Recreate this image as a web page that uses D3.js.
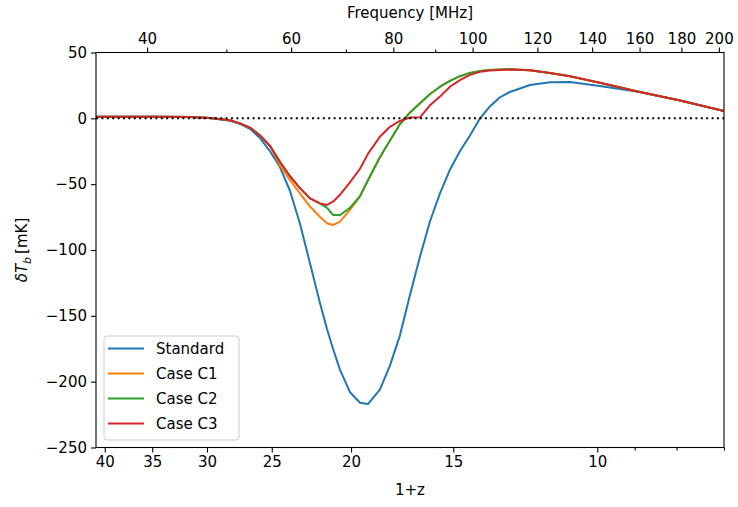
<!DOCTYPE html>
<html>
<head>
<meta charset="utf-8">
<script src="https://cdn.jsdelivr.net/npm/d3@7"></script>
<style>
    body { margin: 0; background: #ffffff; }
    svg { display: block; font-family: "DejaVu Sans", sans-serif; }
    .axis text { font-family: "DejaVu Sans", sans-serif; font-size: 15px; fill: #000000; }
    .axis line { stroke: #000000; stroke-width: 1.1; }
</style>
</head>
<body>
<div id="chart"></div>
<script>

// ----- Daten ------------------------------------------------------------------------------------ //

var nu21 = 1420.4;

var opz = [41, 37.26, 34.24, 31.47, 29.75, 28.12, 27.34, 26.58, 25.84, 25.12, 24.43, 23.75, 23.09,
    22.45, 21.83, 21.40, 21.04, 20.63, 20.06, 19.50, 19.07, 18.44, 17.93, 17.43, 16.94, 16.47, 16.01,
    15.57, 15.14, 14.72, 14.31, 13.91, 13.53, 13.15, 12.79, 12.09, 11.43, 10.80, 9.93, 8.87, 7.92, 7.0];

var tStandard = [1.2, 1.2, 1.2, 1.0, 0.3, -1.8, -4.2, -8, -15, -25, -37, -55, -80,
    -110, -140, -160, -175, -191, -208, -216, -217, -206, -188, -165, -134, -105, -78,
    -57, -39, -25, -13, 0, 9, 16, 20, 25.3, 27.4, 27.6, 24.5, 20, 13.5, 5.5];

var tCaseC1 = [1.2, 1.2, 1.2, 1.0, 0.3, -1.5, -3.8, -7, -13, -21, -35.5, -47, -57,
    -67, -74.7, -79.7, -81, -78.5, -69.6, -59.5, -47, -29.5, -17, -4.5, 4.5, 11.5, 18.5,
    24, 28.5, 32, 34.5, 36, 36.8, 37.1, 37.2, 36.6, 34.5, 32, 27, 20, 13.5, 5.5];

var tCaseC2 = [1.2, 1.2, 1.2, 1.0, 0.3, -1.5, -3.8, -7, -13, -21, -33, -44, -53,
    -60.8, -64.6, -68, -73.4, -73.4, -68, -59, -47, -29.5, -17, -4.5, 4.5, 11.5, 18.5,
    24, 28.5, 32, 34.5, 36, 36.8, 37.1, 37.2, 36.6, 34.5, 32, 27, 20, 13.5, 5.5];

var tCaseC3 = [1.2, 1.2, 1.2, 1.0, 0.3, -1.5, -3.8, -7, -13, -21, -33, -44, -53,
    -60.8, -64.6, -65.8, -63.3, -58, -48.7, -38.3, -27, -14, -6.4, -2, 0.6, 0.8, 10,
    16.5, 24, 29, 33, 35.3, 36.3, 36.8, 37, 36.5, 34.5, 32, 27, 20, 13.5, 5.5];

var seriesNames = ['Standard', 'Case C1', 'Case C2', 'Case C3'];
var seriesColors = ['#1f77b4', '#ff7f0e', '#2ca02c', '#d62728'];

var zTicks = [40, 35, 30, 25, 20, 15, 10];
var zMinorTicks = [9, 8, 7];
var fTicks = [40, 60, 80, 100, 120, 140, 160, 180, 200];
var fMinorTicks = [50, 70, 90];
var yTicks = [50, 0, -50, -100, -150, -200, -250];


// ----- Grundgerüst ------------------------------------------------------------------------------ //

var width = 738;
var height = 507;
var plotLeft = 96, plotRight = 724, plotTop = 52.5, plotBottom = 447.5;

var svg = d3.select('#chart').append('svg')
    .attr('width', width)
    .attr('height', height);

var x = d3.scaleLog().domain([41, 7]).range([plotLeft, plotRight]);
var xf = d3.scaleLog().domain([nu21 / 41, nu21 / 7]).range([plotLeft, plotRight]);
var y = d3.scaleLinear().domain([-250, 50]).range([plotBottom, plotTop]);


// ----- Achsen ----------------------------------------------------------------------------------- //

function drawAxes() {

    var fmt = d3.format('d');

    svg.append('g')
        .attr('class', 'axis')
        .attr('transform', 'translate(0,' + plotBottom + ')')
        .call(d3.axisBottom(x).tickValues(zTicks).tickFormat(fmt).tickSize(5).tickPadding(4));

    svg.append('g')
        .attr('class', 'axis')
        .attr('transform', 'translate(0,' + plotBottom + ')')
        .call(d3.axisBottom(x).tickValues(zMinorTicks).tickFormat('').tickSize(3));

    svg.append('g')
        .attr('class', 'axis')
        .attr('transform', 'translate(0,' + plotTop + ')')
        .call(d3.axisTop(xf).tickValues(fTicks).tickFormat(fmt).tickSize(5).tickPadding(4));

    svg.append('g')
        .attr('class', 'axis')
        .attr('transform', 'translate(0,' + plotTop + ')')
        .call(d3.axisTop(xf).tickValues(fMinorTicks).tickFormat('').tickSize(3));

    svg.append('g')
        .attr('class', 'axis')
        .attr('transform', 'translate(' + plotLeft + ',0)')
        .call(d3.axisLeft(y).tickValues(yTicks).tickFormat(d3.format('d')).tickSize(5).tickPadding(4));

    svg.selectAll('.axis path.domain').remove();

    // Rahmen
    svg.append('rect')
        .attr('x', plotLeft)
        .attr('y', plotTop)
        .attr('width', plotRight - plotLeft)
        .attr('height', plotBottom - plotTop)
        .attr('fill', 'none')
        .attr('stroke', '#000000')
        .attr('stroke-width', 1.1);

    svg.append('text')
        .text('Frequency [MHz]')
        .attr('x', (plotLeft + plotRight) / 2)
        .attr('y', 18)
        .attr('text-anchor', 'middle')
        .style('font-size', '15px');

    svg.append('text')
        .text('1+z')
        .attr('x', (plotLeft + plotRight) / 2)
        .attr('y', 495)
        .attr('text-anchor', 'middle')
        .style('font-size', '15px');

    var ylab = svg.append('text')
        .attr('transform', 'translate(27,' + ((plotTop + plotBottom) / 2) + ') rotate(-90)')
        .attr('text-anchor', 'middle')
        .style('font-size', '15px');

    ylab.append('tspan').text('δT').style('font-style', 'italic');
    ylab.append('tspan').text('b').style('font-style', 'italic')
        .style('font-size', '11px').attr('dy', 4);
    ylab.append('tspan').text('[mK]').attr('dy', -4).attr('dx', 3);
}


// ----- Kurven ----------------------------------------------------------------------------------- //

function drawCurves() {

    var allSeries = [tStandard, tCaseC1, tCaseC2, tCaseC3];

    var line = d3.line()
        .x(function (d, i) { return x(opz[i]); })
        .y(function (d) { return y(d); });

    svg.append('clipPath').attr('id', 'plotclip')
        .append('rect')
        .attr('x', plotLeft).attr('y', plotTop)
        .attr('width', plotRight - plotLeft).attr('height', plotBottom - plotTop);

    var g = svg.append('g').attr('clip-path', 'url(#plotclip)');

    for (var k = 0; k < allSeries.length; k++) {
        g.append('path')
            .datum(allSeries[k])
            .attr('d', line)
            .attr('fill', 'none')
            .attr('stroke', seriesColors[k])
            .attr('stroke-width', 2)
            .attr('stroke-linejoin', 'round');
    }

    // Nulllinie
    g.append('line')
        .attr('x1', plotLeft)
        .attr('x2', plotRight)
        .attr('y1', y(0))
        .attr('y2', y(0))
        .attr('stroke', '#000000')
        .attr('stroke-width', 2)
        .attr('stroke-dasharray', '2,3.4');
}


// ----- Legende ---------------------------------------------------------------------------------- //

function drawLegend() {

    var lg = svg.append('g');

    lg.append('rect')
        .attr('x', 104)
        .attr('y', 336)
        .attr('width', 135)
        .attr('height', 104)
        .attr('rx', 3)
        .attr('fill', '#ffffff')
        .attr('fill-opacity', 0.8)
        .attr('stroke', '#cccccc')
        .attr('stroke-width', 1);

    for (var k = 0; k < seriesNames.length; k++) {
        var ly = 348.5 + k * 25;

        lg.append('line')
            .attr('x1', 108)
            .attr('x2', 144)
            .attr('y1', ly)
            .attr('y2', ly)
            .attr('stroke', seriesColors[k])
            .attr('stroke-width', 2);

        lg.append('text')
            .text(seriesNames[k])
            .attr('x', 156)
            .attr('y', ly + 5.5)
            .style('font-size', '15px');
    }
}


drawCurves();
drawAxes();
drawLegend();

</script>
</body>
</html>
